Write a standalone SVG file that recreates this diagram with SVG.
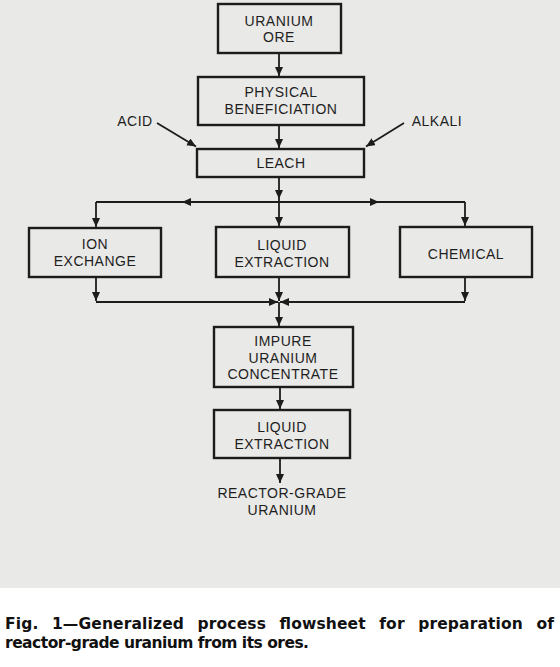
<svg xmlns="http://www.w3.org/2000/svg" width="560" height="667" viewBox="0 0 560 667">
<style>
.bx{fill:none;stroke:#1c1c1c;stroke-width:2.4}
.t{font-family:"Liberation Sans",Arial,sans-serif;font-size:14px;letter-spacing:0.5px;fill:#1e1e1e;text-anchor:middle}
.ln{fill:none;stroke:#1c1c1c;stroke-width:1.8}
.a{marker-end:url(#ah)}
.cap{font-family:"DejaVu Sans","Liberation Sans",sans-serif;font-size:15.5px;font-weight:bold;fill:#111}
</style>
<defs>
<marker id="ah" markerUnits="userSpaceOnUse" markerWidth="10" markerHeight="10" refX="9" refY="4" orient="auto">
<path d="M0,0 L9,4 L0,8 Z" fill="#1c1c1c"/>
</marker>
</defs>
<rect x="0" y="0" width="560" height="588" fill="#e9e9e7"/>
<rect x="0" y="588" width="560" height="79" fill="#ffffff"/>

<g id="connectors">
<path class="ln a" d="M279,53 V76"/>
<path class="ln a" d="M279,125 V148"/>
<path class="ln a" d="M157,123 L196,146.5"/>
<path class="ln a" d="M404,123 L366,146.5"/>
<path class="ln a" d="M279,177 V199"/>
<path class="ln a" d="M279,199 V226"/>
<path class="ln" d="M96,202 H465"/>
<path class="ln a" d="M230,202 H182"/>
<path class="ln a" d="M330,202 H379"/>
<path class="ln a" d="M96,202 V227"/>
<path class="ln a" d="M465,202 V226"/>
<path class="ln a" d="M96,277 V301"/>
<path class="ln a" d="M465,277 V301"/>
<path class="ln a" d="M279,277 V301"/>
<path class="ln a" d="M96,302 H278"/>
<path class="ln a" d="M465,302 H280"/>
<path class="ln a" d="M279,302 V326"/>
<path class="ln a" d="M280,387 V409"/>
<path class="ln a" d="M280,458 V483"/>
</g>

<g id="uranium-ore">
<rect class="bx" x="218" y="4" width="123" height="49"/>
<text class="t" x="279" y="26">URANIUM</text>
<text class="t" x="279" y="42">ORE</text>
</g>
<g id="physical-beneficiation">
<rect class="bx" x="198" y="77" width="166" height="48"/>
<text class="t" x="281" y="97">PHYSICAL</text>
<text class="t" x="281" y="114">BENEFICIATION</text>
</g>
<g id="acid">
<text class="t" x="135" y="126">ACID</text>
</g>
<g id="alkali">
<text class="t" x="437" y="126">ALKALI</text>
</g>
<g id="leach">
<rect class="bx" x="197" y="149" width="167" height="28"/>
<text class="t" x="281" y="168">LEACH</text>
</g>
<g id="ion-exchange">
<rect class="bx" x="29" y="228" width="132" height="49"/>
<text class="t" x="95" y="249">ION</text>
<text class="t" x="95" y="266">EXCHANGE</text>
</g>
<g id="liquid-extraction-1">
<rect class="bx" x="216" y="227" width="133" height="50"/>
<text class="t" x="282" y="250">LIQUID</text>
<text class="t" x="282" y="267">EXTRACTION</text>
</g>
<g id="chemical">
<rect class="bx" x="400" y="227" width="132" height="50"/>
<text class="t" x="466" y="259">CHEMICAL</text>
</g>
<g id="impure-uranium-concentrate">
<rect class="bx" x="214" y="327" width="139" height="60"/>
<text class="t" x="283" y="346">IMPURE</text>
<text class="t" x="283" y="362.5">URANIUM</text>
<text class="t" x="283" y="379">CONCENTRATE</text>
</g>
<g id="liquid-extraction-2">
<rect class="bx" x="214" y="410" width="136" height="48"/>
<text class="t" x="282" y="432">LIQUID</text>
<text class="t" x="282" y="449">EXTRACTION</text>
</g>
<g id="reactor-grade-uranium">
<text class="t" x="282" y="498">REACTOR-GRADE</text>
<text class="t" x="282" y="515">URANIUM</text>
</g>

<g id="caption">
<text class="cap" x="5" y="629" word-spacing="8" textLength="549" lengthAdjust="spacing">Fig. 1—Generalized process flowsheet for preparation of</text>
<text class="cap" x="5" y="648" textLength="304">reactor-grade uranium from its ores.</text>
</g>
</svg>
